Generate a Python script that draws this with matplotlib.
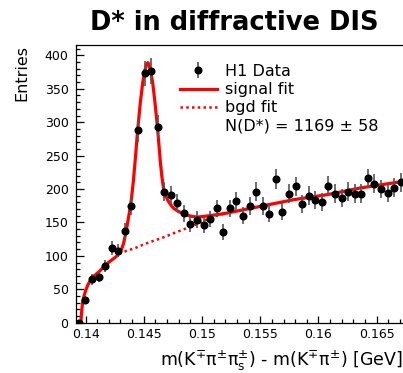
"""D* signal in diffractive DIS: delta-m distribution with signal and background fits."""
import matplotlib
matplotlib.use("Agg")
import matplotlib.pyplot as plt
from matplotlib.lines import Line2D
from matplotlib.ticker import MultipleLocator

plt.rcParams["font.family"] = ["DejaVu Sans"]
plt.rcParams["mathtext.default"] = "regular"

# histogram bin centres [GeV], entries and errors
dm = [0.13943, 0.13999, 0.14056, 0.14112, 0.14168, 0.14225, 0.14281, 0.14338,
      0.14394, 0.14450, 0.14507, 0.14563, 0.14619, 0.14676, 0.14732, 0.14789,
      0.14845, 0.14901, 0.14958, 0.15014, 0.15071, 0.15127, 0.15183, 0.15240,
      0.15296, 0.15353, 0.15409, 0.15465, 0.15522, 0.15578, 0.15635, 0.15691,
      0.15747, 0.15804, 0.15860, 0.15917, 0.15973, 0.16029, 0.16086, 0.16142,
      0.16199, 0.16255, 0.16311, 0.16368, 0.16424, 0.16481, 0.16537, 0.16593,
      0.16650, 0.16706]
entries = [0, 34, 65, 69, 85, 112, 108, 137, 175, 288, 373, 377, 293, 196, 191, 179,
           164, 148, 154, 146, 155, 171, 136, 171, 182, 160, 175, 196, 175, 163, 215, 166,
           193, 204, 178, 190, 184, 180, 205, 193, 187, 196, 193, 193, 216, 208, 200, 194,
           202, 210]
errors = [0.0, 5.8, 8.1, 8.3, 9.2, 10.6, 10.4, 11.7, 13.2, 17.0, 19.3, 19.4, 17.1, 14.0,
          13.8, 13.4, 12.8, 12.2, 12.4, 12.1, 12.4, 13.1, 11.7, 13.1, 13.5, 12.6, 13.2, 14.0,
          13.2, 12.8, 14.7, 12.9, 13.9, 14.3, 13.3, 13.8, 13.6, 13.4, 14.3, 13.9, 13.7, 14.0,
          13.9, 13.9, 14.7, 14.4, 14.1, 13.9, 14.2, 14.5]

# signal + background fit curve
fit_x = [0.13960, 0.13966, 0.13974, 0.13987, 0.14003, 0.14021, 0.14045, 0.14077,
         0.14117, 0.14154, 0.14189, 0.14219, 0.14246, 0.14270, 0.14289, 0.14309,
         0.14326, 0.14343, 0.14360, 0.14377, 0.14394, 0.14411, 0.14429, 0.14448,
         0.14471, 0.14491, 0.14510, 0.14523, 0.14534, 0.14544, 0.14560, 0.14577,
         0.14596, 0.14617, 0.14643, 0.14656, 0.14669, 0.14686, 0.14707, 0.14729,
         0.14754, 0.14797, 0.14855, 0.14900, 0.14957, 0.15037, 0.15140, 0.15215,
         0.15500, 0.15785, 0.16072, 0.16357, 0.16750]
fit_y = [0, 15, 29, 40, 49, 57, 64, 70.5, 76.5, 83, 89, 93, 96.5, 100, 104, 110,
         118, 132, 148, 165, 185, 212, 248, 289, 330, 359, 378, 386, 389, 387, 375, 359,
         330, 294, 240, 218, 202, 191, 183, 177, 171.5, 166.5, 162, 159.5, 158, 159.5, 162,
         164, 174, 184, 191.5, 201.5, 212]

# background-only fit under the peak
bgd_x = [0.14289, 0.14351, 0.14426, 0.14497, 0.14568, 0.14643, 0.14711, 0.14780,
         0.14855, 0.14940, 0.15011, 0.15089, 0.15140, 0.15215]
bgd_y = [103, 107.5, 111.6, 117, 121.5, 126, 130.5, 135.5, 140.5, 146.5, 152, 157.5,
         161, 164]

n_dstar, n_dstar_err = 1169, 58

W, H = 403, 373
fig = plt.figure(figsize=(W / 100, H / 100), dpi=100)
ax = fig.add_axes([75.5 / W, 1 - 322.7 / H, (W - 75.5) / W, (322.7 - 45) / H])

red = "#ff0000"
ax.plot(bgd_x, bgd_y, color=red, lw=1.8, ls=(0, (1, 1.3)), zorder=2)
ax.plot(fit_x, fit_y, color=red, lw=2.3, zorder=3, solid_joinstyle="round")
data = ax.errorbar(dm, entries, yerr=errors, fmt="o", color="black", ms=4.8,
                   ecolor="#555555", elinewidth=1.2, capsize=0, zorder=4)

ax.set_xlim(0.13914, 0.16726)
ax.set_ylim(0, 415.5)
ax.xaxis.set_major_locator(MultipleLocator(0.005))
ax.xaxis.set_minor_locator(MultipleLocator(0.001))
ax.yaxis.set_major_locator(MultipleLocator(50))
ax.yaxis.set_minor_locator(MultipleLocator(10))
ax.xaxis.set_major_formatter(lambda v, p: f"{v:g}")
ax.tick_params(which="both", direction="in", top=False, right=False,
               labelsize=9, width=0.9)
ax.tick_params(axis="y", which="major", length=6, pad=5)
ax.tick_params(axis="y", which="minor", length=3.2)
ax.tick_params(axis="x", which="major", length=5, pad=4)
ax.tick_params(axis="x", which="minor", length=2.8)
ax.spines["right"].set_visible(False)
for s in ("left", "bottom", "top"):
    ax.spines[s].set_linewidth(0.9)

ax.set_xlabel(r"m(K$^{\mp}\pi^{\pm}\pi_{s}^{\pm}$) - m(K$^{\mp}\pi^{\pm}$) [GeV]",
              fontsize=12.5, ha="right", va="center")
ax.xaxis.set_label_coords((402 - 75.5) / (W - 75.5), -38 / 277.7)

fig.text(22 / W, 1 - 45 / H, "Entries", rotation=90, ha="center", va="top", fontsize=11.5)
fig.text(234 / W, 1 - 30 / H, "D* in diffractive DIS", ha="center", va="baseline",
         fontsize=18.5, fontweight="bold")

handles = [
    data,
    Line2D([], [], color=red, lw=2.3),
    Line2D([], [], color=red, lw=1.8, ls=(0, (1, 1.3))),
    Line2D([], [], ls="none"),
]
labels = ["H1 Data", "signal fit", "bgd fit", f"N(D*) = {n_dstar} \u00b1 {n_dstar_err}"]
ax.legend(handles, labels, loc="upper left", bbox_to_anchor=(180 / W, 1 - 64 / H),
          bbox_transform=fig.transFigure, frameon=False, fontsize=11.5,
          handlelength=2.3, handletextpad=0.5, labelspacing=0.2, borderpad=0,
          borderaxespad=0)

fig.savefig("out.png", dpi=100)
